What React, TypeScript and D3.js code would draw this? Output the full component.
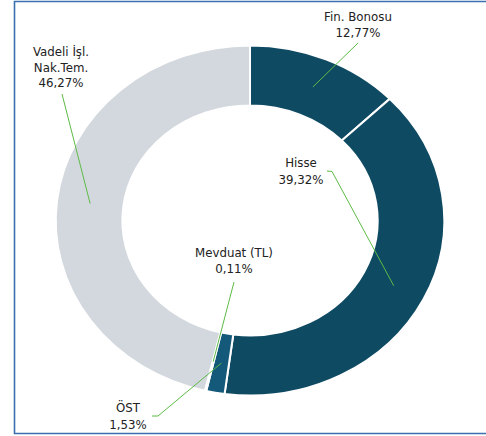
import React from "react";
import * as d3 from "d3";

const categories = ["Fin. Bonosu", "Hisse", "ÖST", "Mevduat (TL)", "Vadeli İşl. Nak.Tem."];
const values = [12.77, 39.32, 1.53, 0.11, 46.27];
const valueLabels = ["12,77%", "39,32%", "1,53%", "0,11%", "46,27%"];
const labelLines = [["Fin. Bonosu"], ["Hisse"], ["ÖST"], ["Mevduat (TL)"], ["Vadeli İşl.", "Nak.Tem."]];
const colors = ["#0f4a63", "#0f4a63", "#14597a", "#2b6f8e", "#d3d8de"];

// layout: label text anchor (x, first line center y) and leader start points
const labelLayout = [
  { x: 358, y: 17, lh: 16, leader: [[358, 43]] },
  { x: 301, y: 163, lh: 17, leader: [[327, 171], [332, 171.5]] },
  { x: 128, y: 408, lh: 17, leader: [[152, 416], [158, 416]] },
  { x: 234, y: 253, lh: 16, leader: [[234, 282]] },
  { x: 61, y: 52, lh: 15.5, leader: [[62, 94]] },
];

const W = 486;
const H = 436;
const cx = 250;
const cy = 220.5;
const sx = 1.11;
const outerR = 175;
const innerR = 115;

export default function App() {
  const pie = d3.pie<number>().sort(null).value((d) => d)(values);
  const arc = d3.arc<d3.PieArcDatum<number>>().innerRadius(innerR).outerRadius(outerR);
  const line = d3.line();
  return (
    <svg width={W} height={H} style={{ position: "absolute", left: 0, top: 0 }}>
      <rect x={0} y={0} width={W} height={H} fill="#fff" />
      <path d={`M${W + 2},1.5 H14.5 V433.5 H${W + 2}`} fill="none" stroke="#3b70b0" strokeWidth={1.6} />
      <g transform={`translate(${cx},${cy}) scale(${sx},1)`}>
        {pie.map((p, i) => (
          <path key={i} d={arc(p) || ""} fill={colors[i]} stroke="#fff" strokeWidth={2} vectorEffect="non-scaling-stroke" />
        ))}
      </g>
      {pie.map((p, i) => {
        const [px, py] = arc.centroid(p);
        const end: [number, number] = [cx + px * sx, cy + py];
        const pts = [...(labelLayout[i].leader as [number, number][]), end];
        return <path key={"l" + i} d={line(pts) || ""} fill="none" stroke="#5dbb46" strokeWidth={1} />;
      })}
      {categories.map((c, i) => {
        const L = labelLayout[i];
        const lines = [...labelLines[i], valueLabels[i]];
        return (
          <text key={"t" + i} textAnchor="middle" fontFamily="DejaVu Sans, Verdana, sans-serif" fontSize={11.8} fill="#222">
            {lines.map((s, j) => (
              <tspan key={j} x={L.x} y={L.y + j * L.lh + 4.2}>{s}</tspan>
            ))}
          </text>
        );
      })}
    </svg>
  );
}
